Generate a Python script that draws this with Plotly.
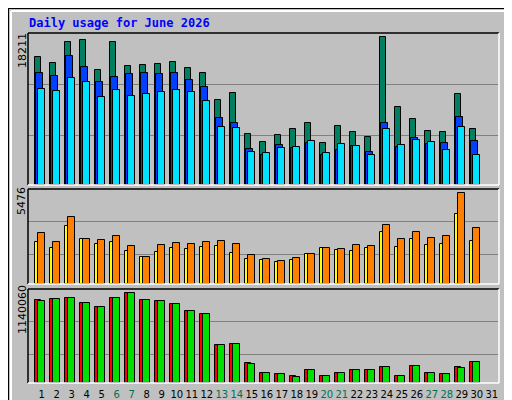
import plotly.graph_objects as go

days = list(range(1, 31))
day_labels = [str(d) for d in range(1, 32)]
weekend = {6, 7, 13, 14, 20, 21, 27, 28}

hits = [15738,14997,17634,17840,14132,17634,14626,14750,14873,15120,14379,13761,10424,11289,6345,
        5356,6221,6963,7704,5232,7334,6592,5974,18211,9558,8199,6716,6592,11165,6963]
files = [13761,13390,15862,14502,12648,13266,13637,13761,13637,13761,12896,12030,8322,7704,4491,
         3749,4985,4614,5232,3749,4367,4862,4120,7704,4738,5850,5109,5232,8446,5480]
pages = [11783,11536,13143,12648,10794,11660,10918,11165,11412,11660,11412,10300,7210,7086,4120,
         3996,4614,4738,5480,3996,5109,4862,3749,6963,4985,5603,5356,4367,7210,3749]
visits = [2500,2143,3452,2678,2381,2500,1964,1607,1905,2143,2083,2202,2262,1845,1488,
          1428,1309,1428,1786,2143,2024,1964,2143,3095,2202,2678,2321,2381,4166,2559]
sites = [3036,2500,3988,2678,2619,2857,2262,1607,2321,2440,2381,2500,2559,2381,1726,
         1488,1369,1548,1786,2143,2083,2321,2262,3512,2678,3095,2738,2857,5476,3333]
kb_f = [1052000,1064900,1077400,1014800,964700,1077400,1140060,1052400,1039800,1002200,914500,864400,
        476100,488600,250600,125300,112800,87700,162900,87700,125300,162900,162900,200400,87700,
        213000,125300,112800,200400,263100]
kb_out = [1039800,1064900,1077400,1014800,964700,1077400,1140060,1052400,1039800,1002200,914500,864400,
          476100,488600,238000,125300,112800,75200,162900,87700,125300,162900,162900,200400,87700,
          213000,125300,112800,187900,263100]

W = 0.46
def bar(y, off, color, xa, ya):
    return go.Bar(x=[d + off for d in days], y=y, width=W, marker=dict(color=color, line=dict(color="black", width=1)),
                  xaxis=xa, yaxis=ya, showlegend=False, hoverinfo="skip")

fig = go.Figure()
fig.add_trace(bar(hits, -0.1, "#008060", "x", "y"))
fig.add_trace(bar(files, 0.0, "#0040ff", "x", "y"))
fig.add_trace(bar(pages, 0.133, "#00e0ff", "x", "y"))
fig.add_trace(bar(visits, -0.1, "#ffff00", "x2", "y2"))
fig.add_trace(bar(sites, 0.133, "#ff8000", "x2", "y2"))
fig.add_trace(bar(kb_f, -0.1, "#ff0000", "x3", "y3"))
fig.add_trace(bar(kb_out, 0.133, "#00e000", "x3", "y3"))

xr = [0.233, 31.633]
xdom = [20/512, 491/512]
common_x = dict(range=xr, domain=xdom, showgrid=False, zeroline=False, showline=False)
ticktext = [f'<span style="color:{"#007050" if int(t) in weekend else "black"}">{t}</span>' for t in day_labels]

gy = dict(showline=False, zeroline=False, showticklabels=False, ticks="", gridcolor="#808080", gridwidth=1)
fig.update_layout(
    width=512, height=400, margin=dict(l=0, r=0, t=0, b=0),
    paper_bgcolor="#c0c0c0", plot_bgcolor="#c0c0c0", barmode="overlay", bargap=0,
    font=dict(family="DejaVu Sans", size=11, color="black"),
    xaxis=dict(**common_x, anchor="y", showticklabels=False),
    xaxis2=dict(**common_x, anchor="y2", showticklabels=False),
    xaxis3=dict(**common_x, anchor="y3", tickmode="array", tickvals=[d + 0.15 for d in range(1, 32)],
                ticktext=ticktext, ticks="", tickangle=0, ticklabelstandoff=4,
                tickfont=dict(size=10, family="DejaVu Sans")),
    yaxis=dict(**gy, domain=[1-177/400, 1-25/400], range=[0, 18741], tickvals=[6165, 12453]),
    yaxis2=dict(**gy, domain=[1-276/400, 1-181/400], range=[0, 5694], tickvals=[1786, 3750]),
    yaxis3=dict(**gy, domain=[1-375/400, 1-281/400], range=[0, 1186000], tickvals=[363300, 776700]),
)

shapes = []
shapes.append(dict(type="rect", xref="paper", yref="paper", x0=0, x1=1, y0=0, y1=1, line=dict(color="black", width=2)))
shapes.append(dict(type="line", xref="paper", yref="paper", x0=3/512, x1=509/512, y0=1-3/400, y1=1-3/400, line=dict(color="white", width=2)))
shapes.append(dict(type="line", xref="paper", yref="paper", x0=3/512, x1=3/512, y0=3/400, y1=1-3/400, line=dict(color="white", width=2)))
shapes.append(dict(type="line", xref="paper", yref="paper", x0=3/512, x1=509/512, y0=3/400, y1=3/400, line=dict(color="#808080", width=2)))
shapes.append(dict(type="line", xref="paper", yref="paper", x0=509/512, x1=509/512, y0=3/400, y1=1-3/400, line=dict(color="#808080", width=2)))
for top, bot in [(25, 177), (181, 276), (281, 375)]:
    x0, x1 = 20/512, 491/512
    y0, y1 = 1-bot/400, 1-top/400
    shapes.append(dict(type="line", xref="paper", yref="paper", x0=x0, x1=x1, y0=y1, y1=y1, line=dict(color="black", width=1.5)))
    shapes.append(dict(type="line", xref="paper", yref="paper", x0=x0, x1=x0, y0=y0, y1=y1, line=dict(color="black", width=1.5)))
    shapes.append(dict(type="line", xref="paper", yref="paper", x0=x0, x1=x1, y0=y0, y1=y0, line=dict(color="white", width=1.5)))
    shapes.append(dict(type="line", xref="paper", yref="paper", x0=x1, x1=x1, y0=y0, y1=y1, line=dict(color="white", width=1.5)))
fig.update_layout(shapes=shapes)

def ann(text, x, y, angle=0, color="black", size=11, bold=False, xanchor="center", family="DejaVu Sans Mono"):
    fig.add_annotation(text=f"<b>{text}</b>" if bold else text, x=x/512, y=1-y/400, xref="paper", yref="paper",
                       showarrow=False, textangle=angle, font=dict(color=color, size=size, family=family),
                       xanchor=xanchor, yanchor="middle")

ann("Daily usage for June 2026", 19, 15, color="#0000ff", size=12, bold=True, xanchor="left")
ann("18211", 14, 43, angle=-90, family="DejaVu Sans")
ann("5476", 14, 193, angle=-90, family="DejaVu Sans")
ann("1140060", 14, 302, angle=-90, family="DejaVu Sans")

CW = 5.4
def vlabel(segments, bottom_y):
    y = bottom_y
    for text, color in segments:
        n = len(text)
        ann(text, 501, y - n * CW / 2, angle=-90, color=color, size=9)
        y -= n * CW

vlabel([("Pages", "#00e0ff"), (" / ", "black"), ("Files", "#0040ff"), (" / ", "black"), ("Hits", "#008060")], 137)
vlabel([("Sites", "#ff8000"), (" / ", "black"), ("Visits", "#ffff00")], 257)
vlabel([("kB F", "#ff0000"), (" / ", "black"), ("kB In", "#0080ff"), (" / ", "black"), ("kB Out", "#00c000")], 377)

fig.write_html("out.html")
